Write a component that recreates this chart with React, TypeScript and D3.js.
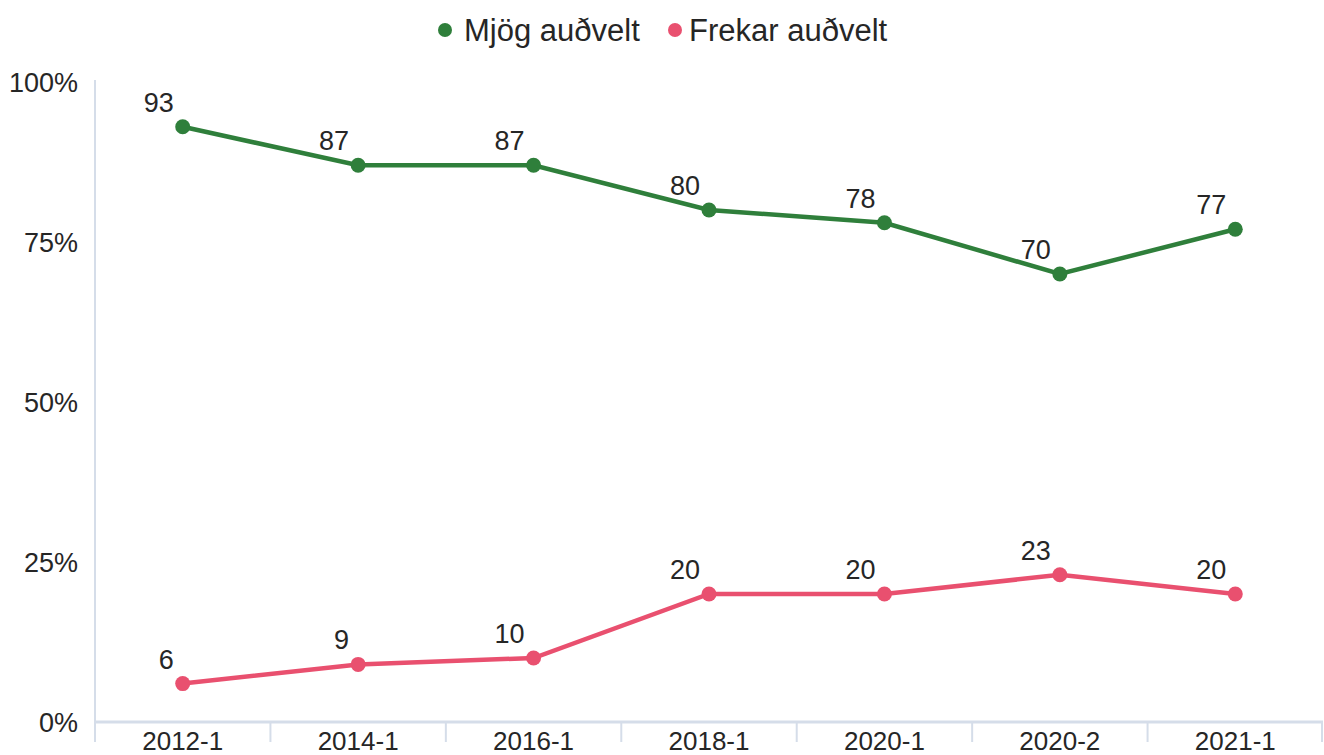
import React from 'react';
import * as d3 from 'd3';

const categories = ['2012-1', '2014-1', '2016-1', '2018-1', '2020-1', '2020-2', '2021-1'];
const mjogValues = [93, 87, 87, 80, 78, 70, 77];
const frekarValues = [6, 9, 10, 20, 20, 23, 20];
const yTicks = [0, 25, 50, 75, 100];

const series = [
  { name: 'Mjög auðvelt', color: '#2f7f3b', values: mjogValues },
  { name: 'Frekar auðvelt', color: '#e9506f', values: frekarValues },
];

const width = 1324;
const height = 755;
const margin = { top: 82, right: 1, bottom: 33, left: 95 };
const font = '"Liberation Sans", Arial, Helvetica, sans-serif';
const axisColor = '#d5dde9';
const textColor = '#262626';

const App = () => {
  const xScale = d3.scaleBand()
    .domain(categories)
    .range([margin.left, width - margin.right])
    .padding(0);

  const yScale = d3.scaleLinear()
    .domain([0, 100])
    .range([height - margin.bottom, margin.top]);

  const cx = (c: string) => (xScale(c) as number) + xScale.bandwidth() / 2;

  const line = d3.line<number>()
    .x((d, i) => cx(categories[i]))
    .y(d => yScale(d));

  const baseY = yScale(0);

  return (
    <svg width={width} height={height} style={{ display: 'block', position: 'absolute', left: 0, top: 0 }}
      fontFamily={font}>
      <rect x={0} y={0} width={width} height={height} fill="#fff" />

      {/* legend */}
      <g>
        <circle cx={445} cy={30} r={7} fill={series[0].color} />
        <text x={464} y={41} fontSize={31} fill={textColor}>{series[0].name}</text>
        <circle cx={675} cy={30} r={7} fill={series[1].color} />
        <text x={689} y={41} fontSize={31} fill={textColor}>{series[1].name}</text>
      </g>

      {/* y axis */}
      <line x1={margin.left} x2={margin.left} y1={margin.top - 2} y2={baseY + 20} stroke={axisColor} strokeWidth={2} />
      {yTicks.map(t => (
        <text key={t} x={78} y={yScale(t) + 10} fontSize={27} textAnchor="end" fill={textColor}>{t}%</text>
      ))}

      {/* x axis */}
      <line x1={margin.left} x2={width - margin.right} y1={baseY} y2={baseY} stroke={axisColor} strokeWidth={3} />
      {categories.map(c => (
        <line key={'t' + c} x1={xScale(c) as number} x2={xScale(c) as number}
          y1={baseY} y2={baseY + 20} stroke={axisColor} strokeWidth={2} />
      ))}
      <line x1={width - margin.right - 1} x2={width - margin.right - 1} y1={baseY} y2={baseY + 20} stroke={axisColor} strokeWidth={2} />
      {categories.map(c => (
        <text key={'l' + c} x={cx(c)} y={baseY + 28} fontSize={26} textAnchor="middle" fill={textColor}>{c}</text>
      ))}

      {/* lines */}
      {series.map(s => (
        <g key={s.name}>
          <path d={line(s.values) as string} fill="none" stroke={s.color} strokeWidth={4.5} />
          {s.values.map((v, i) => (
            <circle key={i} cx={cx(categories[i])} cy={yScale(v)} r={7.5} fill={s.color} />
          ))}
          {s.values.map((v, i) => (
            <text key={'v' + i} x={cx(categories[i]) - 9} y={yScale(v) - 15} fontSize={27}
              textAnchor="end" fill={textColor}>{v}</text>
          ))}
        </g>
      ))}
    </svg>
  );
};

export default App;
